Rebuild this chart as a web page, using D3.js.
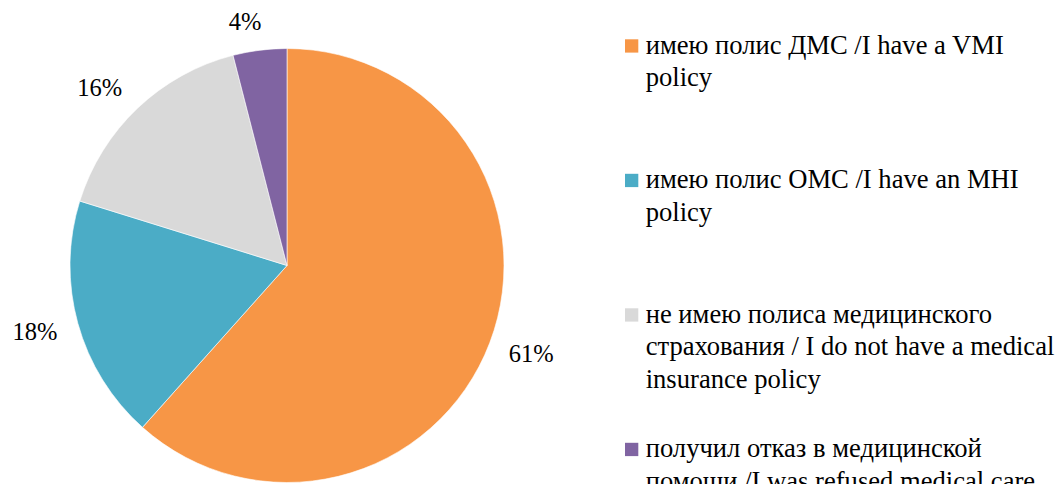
<!DOCTYPE html>
<html>
<head>
<meta charset="utf-8">
<script src="https://cdn.jsdelivr.net/npm/d3@7"></script>
<style>
  html, body { margin: 0; padding: 0; background: #fff; overflow: hidden; }
</style>
</head>
<body>
<svg id="chart" width="1055" height="484"></svg>
<script>
// data
var categories = [
  ["имею полис ДМС /I have a VMI", "policy"],
  ["имею полис ОМС /I have an MHI", "policy"],
  ["не имею полиса медицинского", "страхования / I do not have a medical", "insurance policy"],
  ["получил отказ в медицинской", "помощи /I was refused medical care"]
];
var values = [61.6, 18.2, 16.2, 4.0];
var valueLabels = ["61%", "18%", "16%", "4%"];
var colors = ["#F79646", "#4BACC6", "#D9D9D9", "#8064A2"];

var fontFam = "Liberation Serif, Times New Roman, serif";
var cx = 287, cy = 265.5, radius = 217;

var svg = d3.select("#chart");

var pie = d3.pie().value(function(d) { return d; }).sort(null);
var arc = d3.arc().innerRadius(0).outerRadius(radius);
var arcs = pie(values);

var g = svg.append("g").attr("transform", "translate(" + cx + "," + cy + ")");

// slices
g.selectAll("path")
  .data(arcs)
  .enter()
  .append("path")
    .attr("d", arc)
    .style("fill", function(d, i) { return colors[i]; })
    .style("stroke", "#fff")
    .style("stroke-width", 0.6);

// value labels, outside end
var labels = g.selectAll("text.val")
  .data(arcs)
  .enter()
  .append("text")
    .attr("class", "val")
    .attr("font-family", fontFam)
    .attr("font-size", 24.5)
    .attr("text-anchor", "middle")
    .attr("dy", "0.35em")
    .style("fill", "#000")
    .text(function(d, i) { return valueLabels[i]; });

labels.each(function(d) {
  var w = this.getBBox().width;
  var a = (d.startAngle + d.endAngle) / 2;
  var s = Math.sin(a), c = Math.cos(a);
  var x = s * (radius + 22 + w / 2) - 10 * Math.max(c, 0);
  var y = -c * (radius + 29);
  d3.select(this).attr("x", x).attr("y", y);
});

// legend
var legendX = 625, legendTop = 53.5, legendStep = 134.5, lineH = 32.5;

var items = svg.append("g").selectAll("g")
  .data(categories)
  .enter()
  .append("g")
    .attr("transform", function(d, i) { return "translate(" + legendX + "," + (legendTop + i * legendStep) + ")"; });

items.append("rect")
  .attr("x", 0)
  .attr("y", -14.2)
  .attr("width", 13.3)
  .attr("height", 13.3)
  .style("fill", function(d, i) { return colors[i]; });

items.append("text")
  .attr("font-family", fontFam)
  .attr("font-size", 26.6)
  .style("fill", "#000")
  .selectAll("tspan")
  .data(function(d) { return d; })
  .enter()
  .append("tspan")
    .attr("x", 20.7)
    .attr("y", function(d, j) { return j * lineH; })
    .text(function(d) { return d; });
</script>
</body>
</html>
